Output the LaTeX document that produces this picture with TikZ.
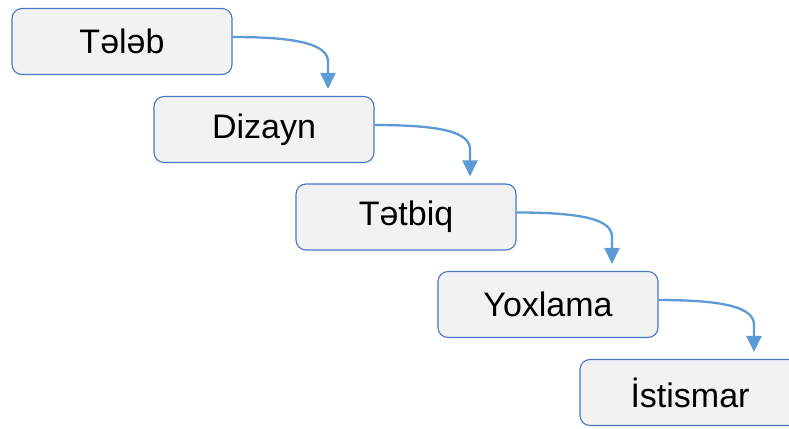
\documentclass[tikz,border=0pt]{standalone}
\usepackage{fontspec}
\setmainfont{Liberation Sans}
\usetikzlibrary{arrows.meta}
\definecolor{boxfill}{RGB}{242,242,242}
\definecolor{boxline}{RGB}{72,118,200}
\definecolor{arrowc}{RGB}{91,155,213}
\begin{document}
\begin{tikzpicture}[x=1pt,y=-1pt,
  stage/.style={draw=boxline, fill=boxfill, line width=1.1pt, rounded corners=10pt,
    minimum width=220pt, minimum height=66pt, inner sep=0pt,
    font=\fontsize{34}{40}\selectfont},
  flow/.style={draw=arrowc, line width=2.3pt, -{Triangle[width=15pt,length=16pt]}}]
\useasboundingbox (0,0) rectangle (789,428);
\clip (0,0) rectangle (789,428);
\node[stage] (a) at (122,41.5) {Tələb};
\node[stage] (b) at (264,129.5) {Dizayn};
\node[stage] (c) at (406,217) {Tətbiq};
\node[stage] (d) at (548,304.5) {Yoxlama};
\node[stage] (e) at (690,392.5) {İstismar};
\foreach \s/\t in {a/b,b/c,c/d,d/e}{
  \draw[flow] ([yshift=4.5pt]\s.east) .. controls +(68,0) and +(0,-17) .. ([xshift=64pt,yshift=34pt]\t.north) -- ([xshift=64pt,yshift=7pt]\t.north);
}
\end{tikzpicture}
\end{document}
